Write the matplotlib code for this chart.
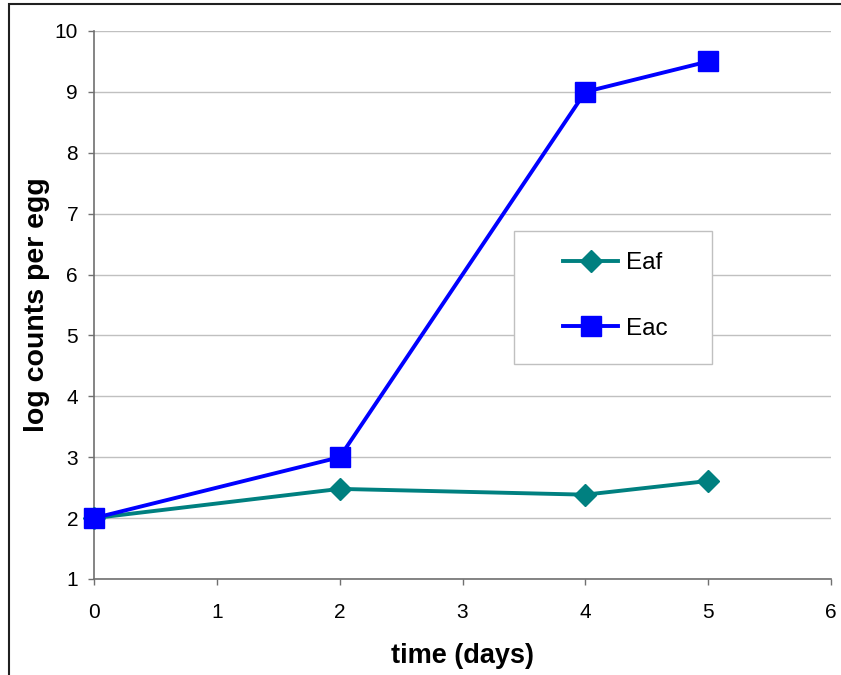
import matplotlib
matplotlib.use("Agg")
import matplotlib.pyplot as plt
from matplotlib.patches import Rectangle

# data
days = [0, 2, 4, 5]
eaf = [2.0, 2.48, 2.385, 2.61]
eac = [2.0, 3.0, 9.0, 9.5]
x_ticks = [0, 1, 2, 3, 4, 5, 6]
y_ticks = [1, 2, 3, 4, 5, 6, 7, 8, 9, 10]

plt.rcParams['font.family'] = ['Liberation Sans', 'DejaVu Sans']

W, H = 841, 675
fig = plt.figure(figsize=(W / 100, H / 100), dpi=100)
ax_l, ax_r, ax_t, ax_b = 94, 831, 31, 579
ax = fig.add_axes([ax_l / W, 1 - ax_b / H, (ax_r - ax_l) / W, (ax_b - ax_t) / H])


def px_to_axes(x, y):
    return (x - ax_l) / (ax_r - ax_l), (ax_b - y) / (ax_b - ax_t)


ax.plot(days, eaf, color='#008080', lw=2.8, marker='D', markersize=11.5, label='Eaf',
        zorder=3, clip_on=False)
ax.plot(days, eac, color='#0000FF', lw=2.8, marker='s', markersize=14, label='Eac',
        zorder=4, clip_on=False)

ax.set_xlim(0, 6)
ax.set_ylim(1, 10)
ax.set_xticks(x_ticks)
ax.set_yticks(y_ticks)
ax.grid(axis='y', color='#c0c0c0', lw=1)
ax.set_axisbelow(True)

for s in ['top', 'right']:
    ax.spines[s].set_visible(False)
for s in ['left', 'bottom']:
    ax.spines[s].set_color('#707070')
    ax.spines[s].set_linewidth(1.2)
ax.tick_params(direction='out', length=4.5, width=1, color='#707070', labelsize=15)
ax.tick_params(axis='y', pad=7)
ax.tick_params(axis='x', pad=13)

ax.set_xlabel('time (days)', fontsize=19.5, fontweight='bold', labelpad=15)
ax.set_ylabel('log counts per egg', fontsize=20.5, fontweight='bold', labelpad=3)

# legend box drawn separately (wider horizontal padding than vertical)
bx0, by0 = px_to_axes(514, 364)
bx1, by1 = px_to_axes(712, 231)
ax.add_patch(Rectangle((bx0, by0), bx1 - bx0, by1 - by0, transform=ax.transAxes,
                       facecolor='white', edgecolor='#c0c0c0', lw=1, zorder=5))
leg = ax.legend(loc='center', bbox_to_anchor=px_to_axes(615, 296),
                fontsize=17.5, frameon=False, borderpad=0, labelspacing=1.8,
                handlelength=2.3, handletextpad=0.3, borderaxespad=0)
leg.set_zorder(6)

# outer chart border
fig.patches.append(Rectangle((9 / W, -0.05), 1.1, 1 - 4 / H + 0.05,
                             transform=fig.transFigure, fill=False,
                             edgecolor='#202020', lw=1.5))

fig.savefig('out.png', dpi=100)
